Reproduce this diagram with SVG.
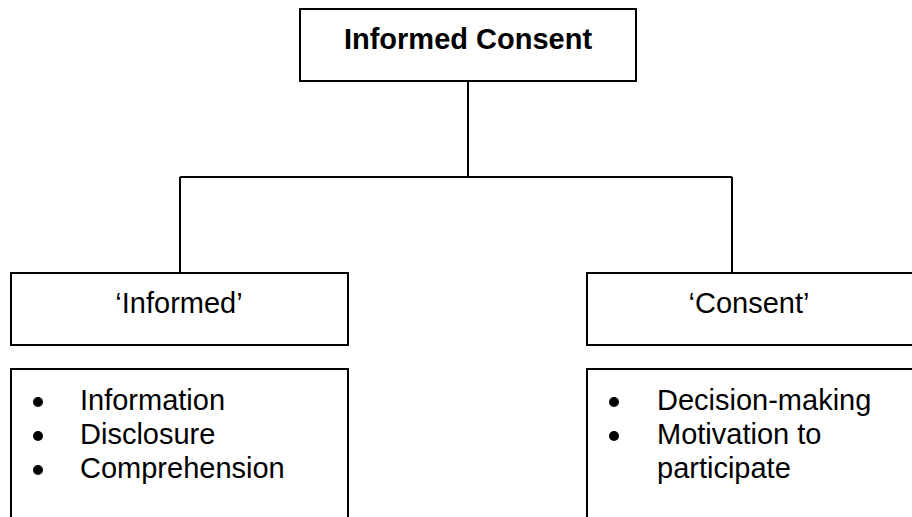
<svg xmlns="http://www.w3.org/2000/svg" width="912" height="517" viewBox="0 0 912 517">
<style>
.box{fill:#fff;stroke:#000;stroke-width:2}
.ln{fill:none;stroke:#000;stroke-width:2}
.t{font-family:"Liberation Sans",Arial,sans-serif;font-size:29px;fill:#000}
.b{font-weight:bold}
.mid{text-anchor:middle}
</style>
<rect width="912" height="517" fill="#fff"/>
<g id="connectors">
<path class="ln" d="M468 81V177M180 177H732M180 177V273M732 177V273"/>
</g>
<g id="top">
<rect class="box" x="300" y="9" width="336" height="72"/>
<text class="t b mid" x="468" y="49">Informed Consent</text>
</g>
<g id="informed">
<rect class="box" x="11" y="273" width="337" height="72"/>
<text class="t mid" x="179" y="313">‘Informed’</text>
</g>
<g id="consent">
<rect class="box" x="587" y="273" width="340" height="72"/>
<text class="t mid" x="749" y="313">‘Consent’</text>
</g>
<g id="informed-list">
<path class="ln" d="M11 520V369H348V520"/>
<circle cx="38" cy="402" r="5"/>
<circle cx="38" cy="436" r="5"/>
<circle cx="38" cy="470" r="5"/>
<text class="t" x="80" y="410">Information</text>
<text class="t" x="80" y="444">Disclosure</text>
<text class="t" x="80" y="478">Comprehension</text>
</g>
<g id="consent-list">
<path class="ln" d="M587 520V369H920"/>
<circle cx="614" cy="402" r="5"/>
<circle cx="614" cy="436" r="5"/>
<text class="t" x="657" y="410">Decision-making</text>
<text class="t" x="657" y="444">Motivation to</text>
<text class="t" x="657" y="478">participate</text>
</g>
</svg>
